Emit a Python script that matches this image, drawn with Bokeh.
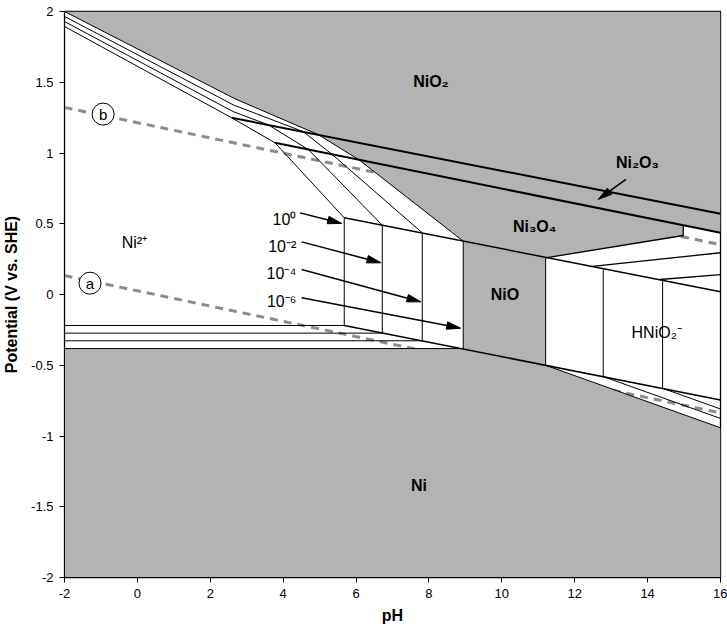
from bokeh.plotting import figure
from bokeh.models import Range1d, FixedTicker, CustomJSTickFormatter
from bokeh.embed import file_html
from bokeh.resources import INLINE
from bokeh.core.properties import value

# ---------------- data (pH, E in V vs SHE) ----------------
conc_text = ["10⁰", "10⁻²", "10⁻⁴", "10⁻⁶"]
# Ni2+ boundaries for each concentration (10^0, 10^-2, 10^-4, 10^-6)
left_E = [1.894, 1.929, 1.965, 2.000]
bend_ph = [2.587, 2.623, 2.650, 2.678]
bend_E = [1.249, 1.293, 1.338, 1.383]
lineA_ph = [2.587, 3.591, 4.551, 4.963]
lineA_E = [1.249, 1.199, 1.151, 1.130]
lineB_ph = [3.775, 4.689, 5.339, 6.074]
lineB_E = [1.072, 1.025, 0.991, 0.953]
nio_ph = [5.676, 6.719, 7.816, 8.941]
nio_top_E = [0.542, 0.490, 0.436, 0.377]
ni_E = [-0.219, -0.273, -0.327, -0.382]

# NiO2/Ni2O3 (A) and Ni2O3/Ni3O4 (B) boundaries
A_ph = [2.587, 16.0]
A_E = [1.249, 0.570]
B_ph = [3.775, 16.0]
B_E = [1.072, 0.436]
# Ni3O4/NiO and NiO/Ni boundaries
oxide_ph = [5.676, 16.0]
oxide_top_E = [0.542, 0.020]
oxide_bot_E = [-0.219, -0.745]

# HNiO2- region (10^-6, 10^-4, 10^-2)
hn_ph = [11.202, 12.782, 14.411]
hn_top_E = [0.259, 0.178, 0.095]
hn_bot_E = [-0.500, -0.580, -0.663]
rise_x0 = [11.202, 12.420, 14.337]
rise_y0 = [0.259, 0.197, 0.106]
rise_x1 = [14.977, 16.0, 16.0]
rise_y1 = [0.417, 0.295, 0.141]
ni3o4_end_E = 0.490
fall_x0 = [11.202, 12.782, 14.411]
fall_y0 = [-0.500, -0.580, -0.663]
fall_x1 = [16.0, 16.0, 16.0]
fall_y1 = [-0.942, -0.876, -0.809]

# water lines a and b
water_ph = [-2.0, 16.0]
water_a_E = [0.134, -0.837]
water_b_E = [1.322, 0.352]
circ_ph = [-1.30, -0.94]
circ_E = [0.080, 1.275]
circ_text = ["a", "b"]

# concentration labels and arrows
clab_ph = [4.36, 4.36, 4.36, 4.36]
clab_E = [0.530, 0.341, 0.148, -0.047]
arr_x0 = [4.461, 4.508, 4.508, 4.508, 13.405]
arr_y0 = [0.577, 0.372, 0.177, -0.023, 0.813]
arr_x1 = [5.605, 6.683, 7.781, 8.870, 12.645]
arr_y1 = [0.502, 0.224, -0.052, -0.238, 0.672]

# phase labels
bold_text = ["NiO₂", "Ni₂O₃", "Ni₃O₄", "NiO", "Ni"]
bold_ph = [8.055, 13.72, 10.90, 10.085, 7.726]
bold_E = [1.505, 0.933, 0.481, 0.000, -1.350]
plain_text = ["Ni²⁺", "HNiO₂⁻"]
plain_ph = [-0.08, 14.25]
plain_E = [0.365, -0.268]

x_ticks = [-2, 0, 2, 4, 6, 8, 10, 12, 14, 16]
y_ticks = [-2, -1.5, -1, -0.5, 0, 0.5, 1, 1.5, 2]

# ---------------- figure ----------------
W, H = 727, 631
ML, MR, MT, MB = 64, 7, 11, 54
FW, FH = W - ML - MR, H - MT - MB
GRAY = "#b3b3b3"
FONT = value("Liberation Sans")

p = figure(width=W, height=H, x_range=Range1d(-2, 16), y_range=Range1d(-2, 2),
           output_backend="svg", toolbar_location=None,
           min_border_left=ML, min_border_right=MR, min_border_top=MT, min_border_bottom=MB)
p.xgrid.visible = False
p.ygrid.visible = False
p.outline_line_color = "black"
p.outline_line_width = 1.3
p.background_fill_color = "white"

p.xaxis.ticker = FixedTicker(ticks=x_ticks)
p.yaxis.ticker = FixedTicker(ticks=y_ticks)
fmt = CustomJSTickFormatter(code="return tick.toString();")
p.xaxis.formatter = fmt
p.yaxis.formatter = fmt
for ax in (p.xaxis[0], p.yaxis[0]):
    ax.major_tick_out = 5
    ax.major_tick_in = 0
    ax.minor_tick_line_color = None
    ax.axis_line_color = "black"
    ax.major_tick_line_color = "black"
    ax.major_label_text_font = "Liberation Sans"
    ax.major_label_text_font_size = "13px"
    ax.major_label_text_color = "black"
    ax.axis_label_text_font = "Liberation Sans"
    ax.axis_label_text_font_size = "16px"
    ax.axis_label_text_font_style = "bold"
    ax.axis_label_text_color = "black"
p.xaxis.axis_label = "pH"
p.yaxis.axis_label = "Potential (V vs. SHE)"
p.xaxis.major_label_standoff = 6
p.yaxis.major_label_standoff = 6
p.xaxis.axis_label_standoff = 6
p.yaxis.axis_label_standoff = 8

# dashed water lines (under the gray regions)
for ys in (water_a_E, water_b_E):
    p.line(water_ph, ys, line_color="#8c8c8c", line_width=3, line_dash="8 6")

# gray stable-solid regions
top_x = [-2.0, bend_ph[3], lineA_ph[3], lineB_ph[3], nio_ph[3], hn_ph[0],
         rise_x1[0], rise_x1[0], B_ph[1], 16.0]
top_y = [left_E[3], bend_E[3], lineA_E[3], lineB_E[3], nio_top_E[3], hn_top_E[0],
         rise_y1[0], ni3o4_end_E, B_E[1], 2.0]
nio_x = [nio_ph[3], hn_ph[0], hn_ph[0], nio_ph[3]]
nio_y = [nio_top_E[3], hn_top_E[0], hn_bot_E[0], ni_E[3]]
ni_x = [-2.0, nio_ph[3], hn_ph[0], fall_x1[0], 16.0, -2.0]
ni_y = [ni_E[3], ni_E[3], hn_bot_E[0], fall_y1[0], -2.0, -2.0]
p.patches([top_x, nio_x, ni_x], [top_y, nio_y, ni_y], fill_color=GRAY, line_color=None)

# concentration boundaries of Ni2+
cx, cy = [], []
for i in range(4):
    cx.append([-2.0, bend_ph[i], lineA_ph[i], lineB_ph[i], nio_ph[i], nio_ph[i], -2.0])
    cy.append([left_E[i], bend_E[i], lineA_E[i], lineB_E[i], nio_top_E[i], ni_E[i], ni_E[i]])
p.multi_line(cx, cy, line_color="black", line_width=1)

# heavy boundaries
p.multi_line([A_ph, B_ph], [A_E, B_E], line_color="black", line_width=2)
p.multi_line([oxide_ph, oxide_ph], [oxide_top_E, oxide_bot_E], line_color="black", line_width=1.5)

# HNiO2- region lines
vx = [[x, x] for x in hn_ph]
vy = [[t, b] for t, b in zip(hn_top_E, hn_bot_E)]
p.multi_line(vx, vy, line_color="black", line_width=1)
rx = [[a, b] for a, b in zip(rise_x0, rise_x1)]
ry = [[a, b] for a, b in zip(rise_y0, rise_y1)]
rx[0].append(rise_x1[0]); ry[0].append(ni3o4_end_E)
p.multi_line(rx, ry, line_color="black", line_width=1.3)
fx = [[a, b] for a, b in zip(fall_x0, fall_x1)]
fy = [[a, b] for a, b in zip(fall_y0, fall_y1)]
p.multi_line(fx, fy, line_color="black", line_width=1)

# arrows
sx, sy = FW / 18.0, FH / 4.0
hx, hy, shx, shy = [], [], [], []
for x0, y0, x1, y1 in zip(arr_x0, arr_y0, arr_x1, arr_y1):
    dx, dy = (x1 - x0) * sx, (y1 - y0) * sy
    n = (dx * dx + dy * dy) ** 0.5
    ux, uy = dx / n, dy / n
    L, Wd = 14.0, 3.8
    bx, by = x1 * sx - ux * L, y1 * sy - uy * L
    px_, py_ = -uy * Wd, ux * Wd
    hx.append([x1, (bx + px_) / sx, (bx - px_) / sx])
    hy.append([y1, (by + py_) / sy, (by - py_) / sy])
    shx.append([x0, bx / sx])
    shy.append([y0, by / sy])
p.multi_line(shx, shy, line_color="black", line_width=1.5)
p.patches(hx, hy, fill_color="black", line_color="black", line_width=1)

# circles a / b
p.scatter(circ_ph, circ_E, marker="circle", size=22, fill_color="white",
          line_color="black", line_width=1)
p.text(circ_ph, circ_E, text=circ_text, text_font=FONT, text_font_size="15px",
       text_align="center", text_baseline="middle", text_color="black")

# labels
p.text(clab_ph, clab_E, text=conc_text, text_font=FONT, text_font_size="16px",
       text_align="right", text_baseline="middle", text_color="black")
p.text(bold_ph, bold_E, text=bold_text, text_font=FONT, text_font_size="16px",
       text_font_style="bold", text_align="center", text_baseline="middle", text_color="black")
p.text(plain_ph, plain_E, text=plain_text, text_font=FONT, text_font_size="16px",
       text_align="center", text_baseline="middle", text_color="black")

open("out.html", "w").write(file_html(p, INLINE))
